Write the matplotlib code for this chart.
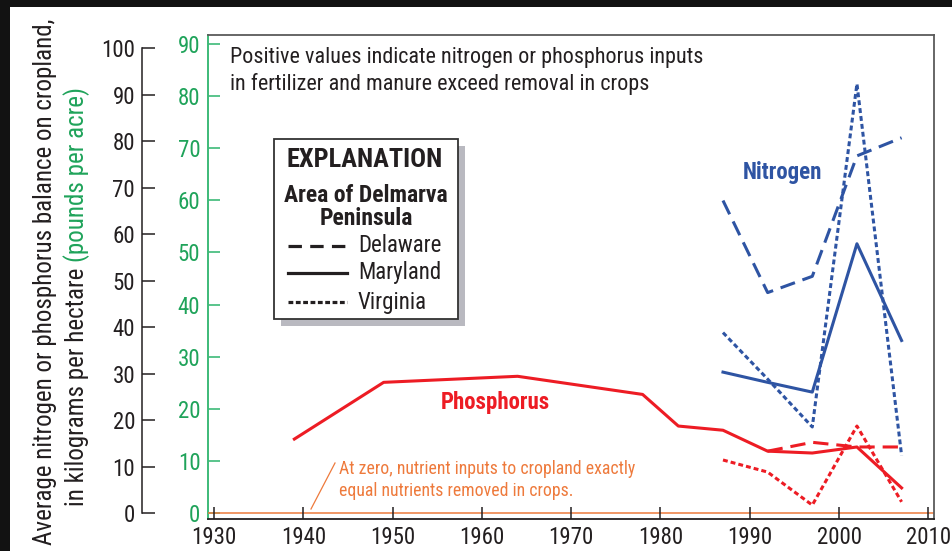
import matplotlib
matplotlib.use("Agg")
import matplotlib.pyplot as plt
from matplotlib.patches import Rectangle
from matplotlib.lines import Line2D

plt.rcParams['font.family'] = ['Roboto Condensed', 'DejaVu Sans']

# values in kilograms per hectare
p_md_years = [1939, 1949, 1964, 1978, 1982, 1987, 1992, 1997, 2002, 2007]
p_md_vals = [15.9, 28.1, 29.4, 25.5, 18.7, 17.8, 13.3, 12.9, 14.2, 5.4]
p_de_years = [1992, 1997, 2002, 2007]
p_de_vals = [13.3, 15.2, 14.2, 14.2]
p_va_years = [1987, 1992, 1997, 2002, 2007]
p_va_vals = [11.4, 8.8, 1.7, 18.7, 2.4]

n_years = [1987, 1992, 1997, 2002, 2007]
n_md_vals = [30.3, 28.1, 26.0, 57.9, 37.1]
n_de_vals = [67.2, 47.4, 50.9, 76.8, 80.7]
n_va_vals = [38.8, 28.8, 18.5, 92.3, 12.4]

x_ticks = list(range(1930, 2011, 10))
kg_ticks = list(range(0, 101, 10))
lb_ticks = list(range(0, 91, 10))
KG_TO_LB = 0.892179

RED = '#ed1c24'
BLUE = '#2e54a3'
GREEN = '#3dba78'
GREEN_TXT = '#1fa35a'
ORANGE = '#ee7a3c'
DARK = '#231f20'

W, H = 952, 551
fig = plt.figure(figsize=(W / 100, H / 100), dpi=100)


def px(x, y):
    return x / W, 1 - y / H


ax = fig.add_axes([208 / W, 1 - 519 / H, 726 / W, 484 / H])
ax.set_xlim(1929.33, 2010.63)
ax.set_ylim(-1.29, 102.8)

dash = (5, 2.6)
dot = (1.6, 1.0)
lw = 2.2
ax.plot(p_md_years, p_md_vals, color=RED, lw=lw)
ax.plot(p_de_years, p_de_vals, color=RED, lw=lw, dashes=dash)
ax.plot(p_va_years, p_va_vals, color=RED, lw=lw, dashes=dot)
ax.plot(n_years, n_md_vals, color=BLUE, lw=lw)
ax.plot(n_years, n_de_vals, color=BLUE, lw=lw, dashes=dash)
ax.plot(n_years, n_va_vals, color=BLUE, lw=lw, dashes=dot)
ax.axhline(0, color=ORANGE, lw=1.1, zorder=1)

# spines
for s in ['top', 'right']:
    ax.spines[s].set_color('#5a5a5a')
    ax.spines[s].set_linewidth(1.3)
ax.spines['bottom'].set_color(DARK)
ax.spines['bottom'].set_linewidth(1.3)

ax.set_xticks(x_ticks)
ax.set_xticklabels([str(t) for t in x_ticks])
ax.tick_params(axis='x', direction='in', length=9, width=1.1, color=DARK,
               labelsize=16.5, labelcolor=DARK, pad=5)

# black kg/ha axis, moved out to the left (66 px)
ax.spines['left'].set_position(('outward', 47.5))
ax.spines['left'].set_bounds(0, 100)
ax.spines['left'].set_color(DARK)
ax.spines['left'].set_linewidth(1.1)
ax.set_yticks(kg_ticks)
ax.set_yticklabels([str(t) for t in kg_ticks])
ax.tick_params(axis='y', direction='in', length=9.5, width=1.1, color=DARK,
               labelsize=16.5, labelcolor=DARK, pad=5)

# green lb/acre axis on the frame
sec = ax.secondary_yaxis(0, functions=(lambda v: v * KG_TO_LB, lambda v: v / KG_TO_LB))
sec.set_yticks(lb_ticks)
sec.set_yticklabels([str(t) for t in lb_ticks])
sec.spines['left'].set_color(GREEN)
sec.spines['left'].set_linewidth(1.4)
sec.tick_params(axis='y', direction='in', length=8.5, width=1.2, color=GREEN,
                labelsize=16.5, labelcolor=GREEN_TXT, pad=5.5)

# notes
ax.text(*px(230, 71), "Positive values indicate nitrogen or phosphorus inputs\n"
        "in fertilizer and manure exceed removal in crops",
        transform=fig.transFigure, ha='left', va='center', fontsize=15.9,
        color=DARK, linespacing=1.25)
ax.text(*px(782, 173), "Nitrogen", transform=fig.transFigure, ha='center', va='center',
        fontsize=16.5, fontweight='bold', color=BLUE)
ax.text(*px(495, 402), "Phosphorus", transform=fig.transFigure, ha='center', va='center',
        fontsize=16.5, fontweight='bold', color=RED)
ax.text(*px(339, 480), "At zero, nutrient inputs to cropland exactly\n"
        "equal nutrients removed in crops.",
        transform=fig.transFigure, ha='left', va='center', fontsize=12.8,
        color=ORANGE, linespacing=1.35)
fig.add_artist(Line2D([335 / W, 311 / W], [1 - 463 / H, 1 - 509 / H], color=ORANGE, lw=0.9))

# explanation box
fig.add_artist(Rectangle(px(281, 326), 184 / W, 180 / H, facecolor='#b9b9c0',
                         edgecolor='none', zorder=5))
fig.add_artist(Rectangle(px(274, 319), 184 / W, 180 / H, facecolor='white',
                         edgecolor='#333333', lw=1.3, zorder=6))
fig.text(*px(365, 160), "EXPLANATION", ha='center', va='center', fontsize=19,
         fontweight='bold', color=DARK, zorder=7)
fig.text(*px(366, 207), "Area of Delmarva\nPeninsula", ha='center', va='center',
         fontsize=17, fontweight='bold', color=DARK, linespacing=1.0, zorder=7)
leg_items = [("Delaware", 246, (4.2, 2.6)), ("Maryland", 273, None), ("Virginia", 302, (1.5, 0.8))]
for name, yy, ds in leg_items:
    line = Line2D([288 / W, 347 / W], [1 - yy / H] * 2, color=DARK, lw=2.3, zorder=7)
    if ds:
        line.set_dashes(ds)
    fig.add_artist(line)
    fig.text(*px(358, yy), name, ha='left', va='center', fontsize=16.5,
             color=DARK, zorder=7)

# y label, second line partly green
fig.text(*px(45, 282), "Average nitrogen or phosphorus balance on cropland,",
         rotation=90, ha='center', va='center', fontsize=18, color=DARK)
part_a = fig.text(*px(77, 506), "in kilograms per hectare ", rotation=90,
                  ha='center', va='bottom', fontsize=18, color=DARK)
fig.canvas.draw()
bb = part_a.get_window_extent()
fig.text(77 / W, bb.y1 / H, "(pounds per acre)", rotation=90, ha='center',
         va='bottom', fontsize=18, color=GREEN_TXT)

# dark screen edges
fig.add_artist(Rectangle((0, 1 - 7 / H), 1, 7 / H, facecolor='#121212', edgecolor='none'))
fig.add_artist(Rectangle((0, 0), 10 / W, 1, facecolor='#121212', edgecolor='none'))

fig.savefig("out.png", dpi=100)
